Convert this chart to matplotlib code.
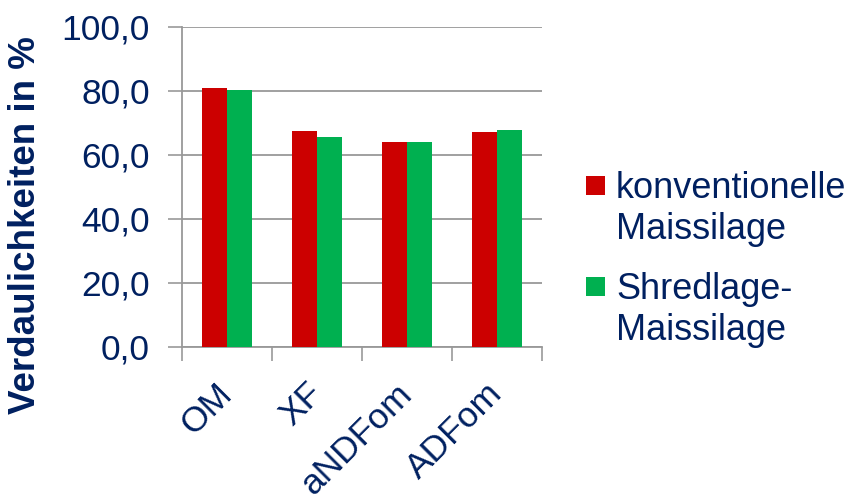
import matplotlib
matplotlib.use('Agg')
import matplotlib.pyplot as plt
from matplotlib.container import BarContainer
from matplotlib.legend_handler import HandlerPatch, update_from_first_child
from matplotlib.patches import Rectangle
import numpy as np

plt.rcParams['font.family'] = ['Liberation Sans', 'DejaVu Sans']

TEXT = '#002060'
GRID = '#999999'

categories = ['OM', 'XF', 'aNDFom', 'ADFom']
konventionell = [80.9, 67.5, 64.1, 67.3]
shredlage = [80.4, 65.5, 64.2, 67.7]
series_labels = ['konventionelle\nMaissilage', 'Shredlage-\nMaissilage']
series_colors = ['#CC0000', '#00B050']

fig = plt.figure(figsize=(8.56, 4.96), dpi=100)
ax = fig.add_axes([182 / 856, 1 - 347 / 496, 360 / 856, 320 / 496])

x = np.arange(len(categories))
w = 0.283
ax.bar(x - w / 2, konventionell, width=w, color=series_colors[0], label=series_labels[0], zorder=3)
ax.bar(x + w / 2, shredlage, width=w, color=series_colors[1], label=series_labels[1], zorder=3)

ax.set_xlim(-0.5, len(categories) - 0.5)
ax.set_ylim(0, 100)
ax.set_yticks(np.arange(0, 101, 20))
ax.set_yticklabels([f'{v:.1f}'.replace('.', ',') for v in range(0, 101, 20)])
ax.set_xticks(np.arange(-0.5, len(categories), 1.0))
ax.set_xticklabels([])
ax.set_xticks(x, minor=True)
ax.set_xticklabels(categories, minor=True, rotation=45, ha='right', va='center',
                   rotation_mode='anchor', fontsize=25.5, color=TEXT)
ax.tick_params(axis='x', which='minor', length=0, pad=30)
ax.tick_params(axis='x', which='major', length=10, width=1.2, color=GRID, direction='out')
ax.tick_params(axis='y', length=10, width=1.2, color=GRID, labelsize=25.5,
               labelcolor=TEXT, pad=13)

ax.grid(axis='y', color=GRID, linewidth=1.3, zorder=0)
for s in ['top', 'right']:
    ax.spines[s].set_visible(False)
for s in ['left', 'bottom']:
    ax.spines[s].set_color(GRID)
    ax.spines[s].set_linewidth(1.3)

ax.set_ylabel('Verdaulichkeiten in %', fontsize=26.5, fontweight='bold', color=TEXT)
ax.yaxis.set_label_coords(-0.386, 0.38)


# square legend key sitting next to the first line of a two-line label
def top_square(legend, orig_handle, xdescent, ydescent, width, height, fontsize):
    size = 0.52 * fontsize
    return Rectangle((-xdescent, -ydescent + height - size + 7), size, size)


square_handler = HandlerPatch(patch_func=top_square, update_func=update_from_first_child)

fig.legend(loc='upper left', bbox_to_anchor=(572 / 856, 1 - 157 / 496), frameon=False,
           fontsize=26, labelcolor=TEXT, handlelength=0.52, handleheight=1.75,
           handletextpad=0.3, labelspacing=0.7, borderaxespad=0,
           handler_map={BarContainer: square_handler})

fig.savefig('out.png', dpi=100, facecolor='white')
